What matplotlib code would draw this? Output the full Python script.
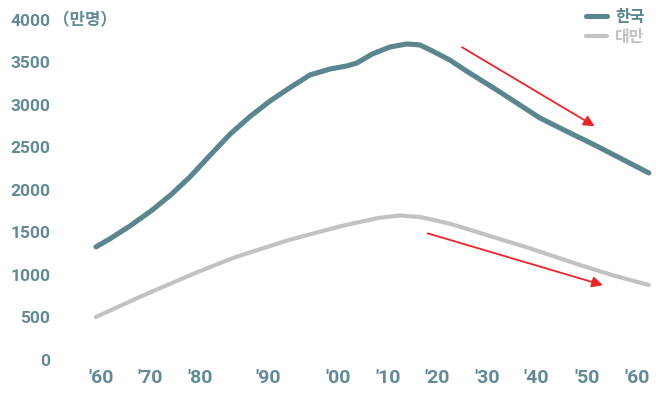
import numpy as np
import matplotlib
matplotlib.use("Agg")
import matplotlib.pyplot as plt
import matplotlib.transforms as mtransforms

plt.rcParams['font.family'] = ['Roboto', 'Noto Sans CJK KR', 'DejaVu Sans']

# working-age population, unit: 10k persons
korea_years = [1960, 1962.5, 1966, 1970, 1973.5, 1977, 1980.7, 1984.3, 1988, 1991.5,
               1995, 1997, 1998.7, 2002.4, 2005.4, 2007.2, 2010, 2013.2, 2016.2, 2018.6,
               2021, 2024, 2027, 2032.5, 2040.3, 2045.2, 2050.2, 2055.1, 2060]
korea_vals = [1330, 1424, 1570, 1755, 1940, 2153, 2412, 2659, 2871, 3047,
              3200, 3282, 3353, 3424, 3459, 3494, 3600, 3682, 3718, 3706,
              3630, 3529, 3400, 3176, 2847, 2688, 2529, 2365, 2200]

taiwan_years = [1960, 1968.6, 1978.4, 1985, 1994.7, 2004.4, 2011, 2015, 2018.8,
                2024, 2030.5, 2038.3, 2046.8, 2053.3, 2060]
taiwan_vals = [506, 761, 1035, 1205, 1408, 1576, 1670, 1700, 1680,
               1604, 1474, 1318, 1133, 1000, 882]

tick_years = [1960.9, 1969.8, 1978.8, 1991.1, 2003.8, 2012.8, 2021.7, 2030.7, 2039.7, 2048.8, 2057.8]
tick_labels = ["'60", "'70", "'80", "'90", "'00", "'10", "'20", "'30", "'40", "'50", "'60"]
y_ticks = [0, 500, 1000, 1500, 2000, 2500, 3000, 3500, 4000]

# trend arrows: (start year, start value) -> (end year, end value)
korea_arrow = ((2026.2, 3680), (2050.2, 2750))
taiwan_arrow = ((2020.0, 1490), (2051.7, 880))

c_korea = '#5b8690'
c_taiwan = '#c2c2c2'
c_text = '#628a94'
c_red = '#e8262a'

fig = plt.figure(figsize=(6.56, 3.93), dpi=100)
W, H = 656, 393
ax = fig.add_axes([60 / W, (H - 365) / H, (W - 60) / W, 360 / H])

ax.plot(korea_years, korea_vals, color=c_korea, lw=3.7, solid_capstyle='round',
        solid_joinstyle='round', label='한국')
ax.plot(taiwan_years, taiwan_vals, color=c_taiwan, lw=3.0, solid_capstyle='round',
        solid_joinstyle='round', label='대만')

for (x0, y0), (x1, y1) in [korea_arrow, taiwan_arrow]:
    ax.annotate('', xy=(x1, y1), xytext=(x0, y0),
                arrowprops=dict(arrowstyle='-|>', color=c_red, lw=1.3,
                                mutation_scale=16, shrinkA=0, shrinkB=0))

ax.set_xlim(1953.5, 2061.3)
ax.set_ylim(-59, 4176)
ax.set_xticks(tick_years)
ax.set_xticklabels(tick_labels)
ax.set_yticks(y_ticks)
ax.set_yticklabels([str(v) for v in y_ticks])
ax.tick_params(length=0, colors=c_text)
ax.tick_params(axis='x', pad=3, labelsize=14)
ax.tick_params(axis='y', pad=7, labelsize=12.5)
for lbl in ax.get_xticklabels() + ax.get_yticklabels():
    lbl.set_fontweight('bold')
for s in ax.spines.values():
    s.set_visible(False)

trans = mtransforms.blended_transform_factory(ax.transAxes, ax.transData)
ax.text(-0.012, 4000, '（만명）', transform=trans, ha='left', va='center',
        fontsize=12, fontweight='bold', color=c_text,
        family=['Noto Sans CJK KR', 'DejaVu Sans'])

leg = ax.legend(loc='upper right', bbox_to_anchor=(1.005, 1.03), frameon=False,
                handlelength=1.3, handletextpad=0.5, labelspacing=0.25,
                prop={'family': ['Noto Sans CJK KR'], 'weight': 'bold', 'size': 11.5})
for txt, col in zip(leg.get_texts(), [c_korea, c_taiwan]):
    txt.set_color(col)

fig.savefig('out.png', dpi=100)
